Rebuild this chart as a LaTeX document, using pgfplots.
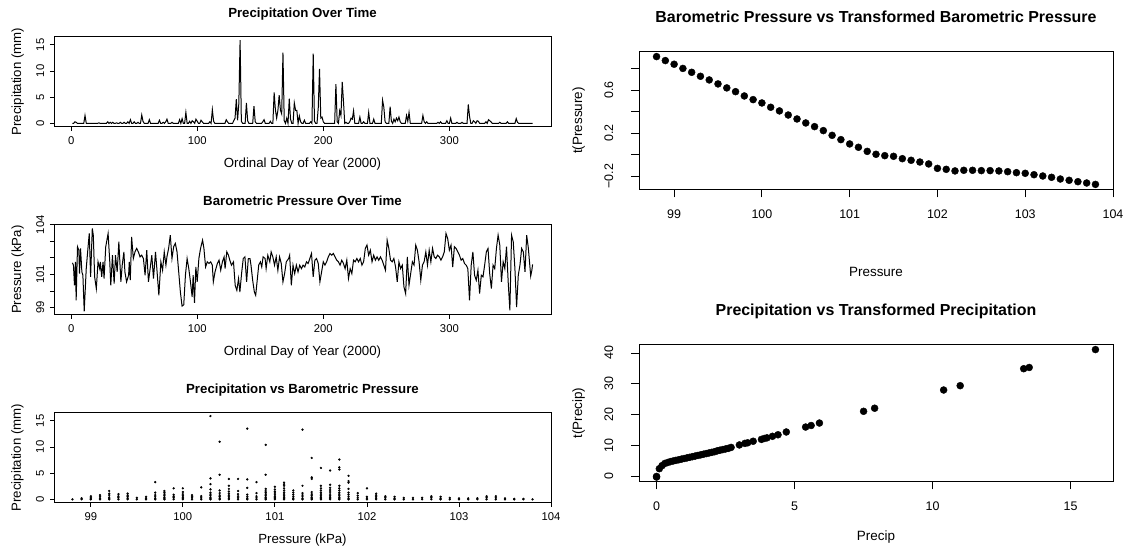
\documentclass[border=0pt]{standalone}
\usepackage{fontspec}
\setmainfont{Liberation Sans}
\usepackage{pgfplots}
\pgfplotsset{compat=1.18}
\pgfplotsset{
  Rbase/.style={scale only axis, axis line style={line width=0.8bp},
    every tick/.style={black, line width=0.8bp}, tick align=outside,
    xtick pos=bottom, ytick pos=left, minor tick num=0, scaled ticks=false,
    /pgf/number format/assume math mode=true,
    /pgf/number format/1000 sep={}},
  Rleft/.style={Rbase, width=497bp, height=90bp, major tick length=4bp,
    xticklabel style={anchor=base, yshift=-14bp, font=\fontsize{11.3}{11.3}\selectfont},
    yticklabel style={xshift=-6bp, rotate=90, anchor=base, font=\fontsize{11.3}{11.3}\selectfont},
    every axis x label/.style={at={(axis description cs:0.5,0)}, yshift=-41bp, anchor=base, font=\fontsize{13.3}{13.3}\selectfont},
    every axis y label/.style={at={(axis description cs:0,0.5)}, xshift=-33bp, rotate=90, anchor=base, font=\fontsize{13.3}{13.3}\selectfont},
    title style={at={(axis description cs:0.5,1)}, anchor=base, yshift=13bp, font=\bfseries\fontsize{13.3}{13.3}\selectfont}},
  Rright/.style={Rbase, width=474bp, major tick length=8bp,
    xticklabel style={anchor=base, yshift=-21bp, font=\fontsize{12.5}{12.5}\selectfont},
    yticklabel style={xshift=-18bp, rotate=90, anchor=base, font=\fontsize{12.5}{12.5}\selectfont},
    every axis y label/.style={at={(axis description cs:0,0.5)}, xshift=-57bp, rotate=90, anchor=base, font=\fontsize{13.5}{13.5}\selectfont},
    title style={at={(axis description cs:0.5,1)}, anchor=base, yshift=23bp, font=\bfseries\fontsize{16}{16}\selectfont}},
}
\begin{document}
\begin{tikzpicture}
\useasboundingbox (0bp,0bp) rectangle (1123bp,546bp);
% ---------- Panel 1 ----------
\begin{axis}[Rleft, at={(54bp,419.3bp)}, anchor=south west,
  xmin=-13.6, xmax=380.6, ymin=-0.636, ymax=16.536,
  xtick={0,100,200,300}, ytick={0,5,10,15},
  title={Precipitation Over Time}, xlabel={Ordinal Day of Year (2000)}, ylabel={Precipitation (mm)}]
\addplot[black, line width=1bp] table[row sep=\\]{
x y\\ 1 0\\ 2 0\\ 3 0.3\\ 4 0.2\\ 5 0\\ 10 0\\ 11 1.5\\ 12 0\\ 21 0\\ 22 0.1\\ 23 0\\ 28 0\\ 29 0.3\\ 30 0\\ 31 0.2\\ 32 0\\ 33 0.2\\ 34 0\\ 35 0\\ 36 0.1\\ 37 0\\ 38 0\\ 39 0.2\\ 40 0\\ 41 0\\ 42 0.2\\ 43 0\\ 44 0\\ 45 0.3\\ 46 0\\ 47 0.7\\ 48 0\\ 49 0\\ 50 0.3\\ 51 0\\ 52 0\\ 53 0.2\\ 54 0\\ 55 0\\ 56 1.6\\ 57 0.4\\ 58 0\\ 61 0\\ 62 0.7\\ 63 0\\ 69 0\\ 70 0.6\\ 71 0\\ 72 0\\ 73 0.2\\ 74 0\\ 75 0.3\\ 76 0.8\\ 77 0\\ 79 0\\ 80 0.2\\ 81 0\\ 85 0\\ 86 0.7\\ 87 0\\ 88 0.9\\ 89 0\\ 90 0\\ 91 2.1\\ 92 0\\ 93 0\\ 94 0.4\\ 95 0\\ 96 0.5\\ 97 0.3\\ 98 0\\ 99 0.8\\ 100 0.4\\ 101 0\\ 102 0\\ 103 0.6\\ 104 0.3\\ 105 0\\ 109 0\\ 110 0.3\\ 111 0\\ 112 2.6\\ 113 0.4\\ 114 0\\ 122 0\\ 123 0.7\\ 124 0.3\\ 125 0\\ 128 0\\ 129 0.5\\ 130 1.0\\ 131 4.6\\ 132 0.6\\ 133 3.8\\ 134 15.9\\ 135 0.4\\ 136 0\\ 138 0\\ 139 3.9\\ 140 0.5\\ 141 0\\ 144 0\\ 145 3.3\\ 146 0.3\\ 147 0\\ 151 0\\ 152 0.3\\ 153 0.7\\ 154 0\\ 157 0\\ 158 0.4\\ 159 0\\ 160 0\\ 161 5.9\\ 162 2.6\\ 163 1.0\\ 164 2.5\\ 165 5.4\\ 166 2.5\\ 167 1.8\\ 168 13.5\\ 169 0.5\\ 170 0\\ 171 1.0\\ 172 0\\ 173 4.7\\ 174 0.8\\ 175 0\\ 176 0\\ 177 3.9\\ 178 2.5\\ 179 2.5\\ 180 0\\ 181 1.4\\ 182 0.3\\ 183 0\\ 184 0\\ 185 0.6\\ 186 0\\ 189 0\\ 190 0.3\\ 191 0\\ 192 13.3\\ 193 0.4\\ 194 0\\ 195 0\\ 196 3.0\\ 197 10.4\\ 198 1.0\\ 199 1.2\\ 200 0.3\\ 201 0\\ 209 0\\ 210 7.5\\ 211 0.3\\ 212 0\\ 213 2.4\\ 214 1.5\\ 215 7.9\\ 216 4.2\\ 217 0\\ 218 0.2\\ 219 0\\ 220 0\\ 221 0.3\\ 222 1.0\\ 223 0.8\\ 224 2.4\\ 225 0\\ 228 0\\ 229 1.2\\ 230 0\\ 231 0\\ 232 0.3\\ 233 0\\ 235 0\\ 236 2.1\\ 237 0\\ 239 0\\ 240 0.8\\ 241 0\\ 246 0\\ 247 4.4\\ 248 3.1\\ 249 0.3\\ 250 0\\ 252 0\\ 253 3.2\\ 254 0.4\\ 255 0\\ 256 0.8\\ 257 0.3\\ 258 1.0\\ 259 0.5\\ 260 1.2\\ 261 0.3\\ 262 0\\ 265 0\\ 266 1.5\\ 267 0.4\\ 268 2.1\\ 269 0\\ 278 0\\ 279 1.5\\ 280 0.3\\ 281 0\\ 282 0.3\\ 283 0\\ 290 0\\ 291 0.2\\ 292 0\\ 293 0.3\\ 294 0\\ 297 0\\ 298 0.5\\ 299 0\\ 300 0\\ 301 1.0\\ 302 0\\ 305 0\\ 306 0.2\\ 307 0\\ 309 0\\ 310 0.2\\ 311 0\\ 314 0\\ 315 3.6\\ 316 1.3\\ 317 0\\ 318 0\\ 319 0.5\\ 320 0.3\\ 321 0\\ 322 0.5\\ 323 0.4\\ 324 0\\ 328 0\\ 329 0.3\\ 330 0\\ 331 0.7\\ 332 0.5\\ 333 0.3\\ 334 0\\ 339 0\\ 340 0.2\\ 341 0\\ 345 0\\ 346 0.3\\ 347 0\\ 352 0\\ 353 0.9\\ 354 0.2\\ 355 0\\ 366 0\\
};
\end{axis}
% ---------- Panel 2 ----------
\begin{axis}[Rleft, at={(54bp,231.3bp)}, anchor=south west,
  xmin=-13.6, xmax=380.6, ymin=98.57, ymax=104.0,
  xtick={0,100,200,300}, ytick={99,100,101,102,103,104}, yticklabels={99,,101,,,104},
  title={Barometric Pressure Over Time}, xlabel={Ordinal Day of Year (2000)}, ylabel={Pressure (kPa)}]
\addplot[black, line width=1bp] coordinates {
(1.0,101.70)(1.84,101.56)(2.64,100.34)(3.44,101.76)(3.97,99.43)(5.04,102.67)(6.11,102.46)(6.64,101.05)(7.44,102.57)(8.51,101.15)(9.31,100.95)(10.37,98.77)(11.97,101.35)(13.31,102.57)(14.37,103.47)(15.44,100.85)(16.77,103.78)(17.57,103.37)(18.64,100.85)(19.97,100.14)(21.31,101.76)(22.64,101.35)(23.17,101.76)(24.24,100.85)(25.31,101.76)(26.11,100.75)(27.44,102.67)(29.31,103.47)(30.64,101.76)(31.44,100.34)(32.77,102.16)(34.11,100.44)(35.17,102.16)(36.51,101.15)(37.84,102.97)(39.44,100.55)(40.51,101.56)(41.84,102.36)(42.64,101.15)(43.97,100.55)(45.57,100.95)(46.11,101.76)(46.91,100.65)(47.97,103.27)(49.31,101.96)(50.64,102.36)(51.97,102.57)(53.31,102.36)(54.64,102.06)(55.97,102.16)(57.31,101.96)(58.64,100.95)(59.97,102.46)(61.31,100.55)(62.64,101.35)(63.97,102.16)(65.31,100.75)(66.91,102.36)(67.97,101.35)(69.57,99.74)(71.17,101.76)(72.51,101.25)(73.84,102.36)(75.17,101.56)(75.97,102.06)(77.31,102.57)(78.64,103.37)(79.97,101.96)(81.31,102.67)(82.64,102.87)(83.97,102.36)(85.31,101.15)(86.64,99.94)(87.97,99.09)(89.31,99.17)(90.64,100.95)(91.97,101.96)(93.31,101.35)(94.64,100.55)(95.97,99.64)(96.77,100.95)(97.84,99.29)(98.91,101.45)(99.97,100.55)(101.31,101.96)(102.64,102.57)(104.24,103.07)(105.31,102.57)(106.64,101.45)(107.97,101.76)(109.31,101.66)(110.64,101.76)(111.97,101.56)(112.77,100.55)(114.11,101.15)(115.97,101.66)(117.31,101.86)(118.64,101.25)(119.97,101.76)(121.31,102.06)(122.11,101.35)(123.44,102.36)(124.77,102.16)(125.84,101.86)(127.17,101.56)(128.77,101.76)(130.11,100.34)(131.44,100.04)(132.77,100.75)(133.84,99.94)(135.17,101.05)(136.51,101.96)(137.84,102.06)(139.17,100.55)(140.51,101.96)(141.84,101.96)(142.64,101.56)(143.97,100.65)(145.31,99.94)(146.37,99.74)(147.44,100.55)(148.77,101.56)(150.11,101.76)(151.17,101.45)(152.24,102.06)(153.84,101.96)(154.64,101.35)(155.97,102.16)(157.57,101.76)(158.64,102.36)(159.97,102.06)(161.31,101.56)(162.64,102.06)(163.97,101.25)(165.31,102.06)(166.64,101.66)(167.97,100.55)(169.31,101.05)(170.64,101.76)(172.51,101.96)(173.3,102.16)(174.64,100.34)(175.97,101.56)(177.31,101.05)(178.64,101.56)(179.97,101.15)(181.31,101.56)(182.64,101.35)(183.97,101.56)(185.31,101.45)(186.64,101.76)(187.97,101.66)(189.31,101.96)(190.64,102.26)(191.97,100.85)(193.31,101.86)(194.64,101.96)(195.97,101.66)(197.31,100.55)(198.64,101.15)(199.97,101.76)(201.31,101.56)(202.64,101.76)(203.97,102.06)(205.31,102.26)(206.64,102.16)(207.97,102.26)(209.31,102.06)(210.64,101.86)(211.97,101.76)(213.31,101.56)(214.64,101.86)(215.97,101.66)(217.31,101.35)(218.64,101.86)(219.97,100.75)(221.31,101.35)(222.64,101.05)(223.97,101.86)(225.31,101.76)(226.64,101.96)(227.97,101.76)(229.31,101.96)(230.64,101.56)(231.97,101.76)(233.31,102.57)(234.64,102.77)(235.97,102.16)(237.31,102.46)(238.64,101.76)(239.97,102.16)(241.31,101.86)(242.64,102.06)(243.97,101.86)(245.31,102.06)(246.64,101.86)(247.97,101.56)(249.31,101.25)(250.64,103.07)(251.97,102.57)(253.31,101.86)(254.64,101.76)(255.97,101.96)(257.31,101.45)(258.64,100.55)(259.97,101.76)(261.31,101.35)(262.64,101.56)(263.97,100.24)(265.31,99.84)(266.64,102.06)(267.97,100.34)(269.31,101.05)(270.64,101.76)(271.97,101.56)(273.31,102.77)(274.64,102.46)(275.97,101.76)(277.31,100.65)(278.64,101.56)(279.97,101.76)(281.31,102.36)(282.64,101.56)(283.97,102.46)(285.31,101.76)(286.64,102.57)(287.97,102.06)(289.31,101.96)(290.64,102.16)(291.97,102.06)(293.31,101.86)(294.64,102.06)(295.97,102.36)(297.31,103.47)(298.64,103.17)(299.97,102.46)(301.31,102.77)(302.64,101.45)(303.97,102.67)(305.31,102.57)(306.64,102.36)(307.97,102.16)(309.31,101.86)(310.64,101.96)(311.97,101.66)(313.31,101.56)(314.64,101.35)(315.97,99.43)(317.31,101.56)(318.64,102.36)(319.97,100.95)(321.31,100.65)(322.64,101.25)(323.97,99.84)(325.31,100.95)(326.64,100.85)(327.97,101.56)(329.31,102.36)(330.64,102.57)(331.97,101.05)(333.31,100.14)(334.64,101.56)(335.97,101.35)(337.31,102.57)(338.64,103.37)(339.97,102.77)(341.31,100.55)(342.64,101.76)(343.97,101.35)(345.31,102.67)(346.64,100.55)(347.97,98.83)(349.31,103.37)(350.64,102.97)(351.97,101.35)(353.31,99.03)(354.64,100.95)(355.97,101.56)(357.31,102.57)(358.64,102.36)(359.97,101.15)(361.31,103.37)(362.6,102.6)(363.5,101.8)(364.5,100.9)(365.3,101.2)(366,101.6)
};
\end{axis}
% ---------- Panel 3 ----------
\begin{axis}[Rleft, at={(54bp,43.3bp)}, anchor=south west,
  xmin=98.6, xmax=104.0, ymin=-0.636, ymax=16.536,
  xtick={99,100,101,102,103,104}, ytick={0,5,10,15},
  title={Precipitation vs Barometric Pressure}, xlabel={Pressure (kPa)}, ylabel={Precipitation (mm)}]
\addplot[only marks, mark=*, mark size=0.95bp, black] coordinates {
(98.8,0)(98.9,0)(98.9,0.2)(99.0,0)(99.0,0.1)(99.0,0.3)(99.0,0.6)(99.1,0)(99.1,0.2)(99.1,0.5)(99.1,0.8)
(99.2,0)(99.2,0.2)(99.2,0.4)(99.2,0.8)(99.2,1.1)(99.2,1.6)(99.3,0)(99.3,0.3)(99.3,0.6)(99.3,1.0)
(99.4,0)(99.4,0.2)(99.4,0.5)(99.4,0.8)(99.4,1.1)(99.5,0)(99.5,0.3)(99.6,0)(99.6,0.2)(99.6,0.5)
(99.7,0)(99.7,0.2)(99.7,0.5)(99.7,0.8)(99.7,1.3)(99.7,3.3)(99.8,0)(99.8,0.2)(99.8,0.4)(99.8,0.7)(99.8,1.0)(99.8,1.3)(99.8,1.6)
(99.9,0)(99.9,0.3)(99.9,0.6)(99.9,0.9)(99.9,2.1)(100.0,0)(100.0,0.2)(100.0,0.4)(100.0,0.7)(100.0,1.0)(100.0,1.4)(100.0,2.1)
(100.1,0)(100.1,0.3)(100.1,0.5)(100.1,0.8)(100.2,0)(100.2,0.3)(100.2,0.6)(100.2,2.3)
(100.3,0)(100.3,0.2)(100.3,0.4)(100.3,0.7)(100.3,1.0)(100.3,1.3)(100.3,1.9)(100.3,2.9)(100.3,4.0)(100.3,15.9)
(100.4,0)(100.4,0.2)(100.4,0.5)(100.4,0.8)(100.4,1.2)(100.4,1.7)(100.4,4.7)(100.4,11.0)
(100.5,0)(100.5,0.2)(100.5,0.5)(100.5,0.8)(100.5,1.1)(100.5,1.5)(100.5,2.0)(100.5,2.6)(100.5,3.9)
(100.6,0)(100.6,0.3)(100.6,0.6)(100.6,1.0)(100.6,1.6)(100.6,3.9)
(100.7,0)(100.7,0.2)(100.7,0.5)(100.7,0.9)(100.7,2.2)(100.7,3.8)(100.7,13.5)
(100.8,0)(100.8,0.3)(100.8,0.6)(100.8,1.2)(100.8,3.3)
(100.9,0)(100.9,0.2)(100.9,0.4)(100.9,0.7)(100.9,1.0)(100.9,1.3)(100.9,1.6)(100.9,2.0)(100.9,4.7)(100.9,10.4)
(101.0,0)(101.0,0.2)(101.0,0.4)(101.0,0.6)(101.0,0.9)(101.0,1.2)(101.0,1.5)(101.0,1.9)(101.0,2.4)
(101.1,0)(101.1,0.2)(101.1,0.4)(101.1,0.7)(101.1,1.0)(101.1,1.3)(101.1,1.7)(101.1,2.1)(101.1,2.6)(101.1,2.9)(101.1,3.2)
(101.2,0)(101.2,0.2)(101.2,0.5)(101.2,0.9)(101.2,1.3)(101.2,1.7)
(101.3,0)(101.3,0.2)(101.3,0.5)(101.3,0.8)(101.3,1.2)(101.3,2.6)(101.3,13.3)
(101.4,0)(101.4,0.2)(101.4,0.4)(101.4,0.7)(101.4,1.0)(101.4,1.4)(101.4,3.9)(101.4,4.2)(101.4,7.9)
(101.5,0)(101.5,0.2)(101.5,0.4)(101.5,0.7)(101.5,1.0)(101.5,1.3)(101.5,1.7)(101.5,2.1)(101.5,2.6)(101.5,6.0)
(101.6,0)(101.6,0.2)(101.6,0.4)(101.6,0.7)(101.6,1.0)(101.6,1.4)(101.6,1.8)(101.6,2.2)(101.6,2.8)(101.6,5.5)
(101.7,0)(101.7,0.2)(101.7,0.4)(101.7,0.7)(101.7,1.0)(101.7,1.3)(101.7,1.7)(101.7,2.1)(101.7,2.6)(101.7,5.7)(101.7,6.1)(101.7,7.6)
(101.8,0)(101.8,0.2)(101.8,0.5)(101.8,0.9)(101.8,1.3)(101.8,2.0)(101.8,3.2)(101.8,3.5)(101.8,4.5)
(101.9,0)(101.9,0.3)(101.9,0.7)(101.9,1.2)(102.0,0)(102.0,0.2)(102.0,0.5)(102.0,2.1)
(102.1,0)(102.1,0.2)(102.1,0.5)(102.1,0.8)(102.1,1.1)(102.2,0)(102.2,0.3)(102.2,0.6)(102.3,0)(102.3,0.2)(102.3,0.5)
(102.4,0)(102.4,0.3)(102.5,0)(102.5,0.3)(102.6,0)(102.6,0.3)(102.7,0)(102.7,0.3)(102.7,0.6)(102.8,0)(102.8,0.2)(102.8,0.5)
(102.9,0)(102.9,0.3)(103.0,0)(103.0,0.2)(103.1,0)(103.1,0.2)(103.2,0)(103.2,0.2)(103.3,0)(103.3,0.3)(103.3,0.6)
(103.4,0)(103.4,0.3)(103.4,0.6)(103.5,0)(103.5,0.2)(103.6,0)(103.6,0.1)(103.7,0)(103.7,0.1)(103.8,0)
};
\end{axis}
% ---------- Panel 4 ----------
\begin{axis}[Rright, at={(639bp,356.5bp)}, anchor=south west, height=138bp,
  xmin=98.6, xmax=104.0, ymin=-0.3255, ymax=0.9575,
  xtick={99,100,101,102,103,104}, ytick={-0.2,0,0.2,0.4,0.6,0.8}, yticklabels={−0.2,,0.2,,0.6,},
  title={Barometric Pressure vs Transformed Barometric Pressure},
  every axis x label/.style={at={(axis description cs:0.5,0)}, yshift=-87bp, anchor=base, font=\fontsize{13.5}{13.5}\selectfont},
  xlabel={Pressure}, ylabel={t(Pressure)}]
\addplot[only marks, mark=*, mark size=3.5bp, black] coordinates {
(98.8,0.910)(98.9,0.873)(99.0,0.839)(99.1,0.800)(99.2,0.764)(99.3,0.727)(99.4,0.693)(99.5,0.656)(99.6,0.619)(99.7,0.584)
(99.8,0.544)(99.9,0.510)(100.0,0.479)(100.1,0.439)(100.2,0.405)(100.3,0.367)(100.4,0.330)(100.5,0.293)(100.6,0.259)(100.7,0.222)
(100.8,0.178)(100.9,0.138)(101.0,0.098)(101.1,0.067)(101.2,0.029)(101.3,0.002)(101.4,-0.011)(101.5,-0.017)(101.6,-0.039)(101.7,-0.054)
(101.8,-0.070)(101.9,-0.088)(102.0,-0.129)(102.1,-0.138)(102.2,-0.153)(102.3,-0.147)(102.4,-0.147)(102.5,-0.150)(102.6,-0.150)(102.7,-0.153)
(102.8,-0.160)(102.9,-0.169)(103.0,-0.175)(103.1,-0.188)(103.2,-0.200)(103.3,-0.212)(103.4,-0.228)(103.5,-0.240)(103.6,-0.253)(103.7,-0.265)(103.8,-0.278)
};
\end{axis}
% ---------- Panel 5 ----------
\begin{axis}[Rright, at={(639bp,64.5bp)}, anchor=south west, height=137bp,
  xmin=-0.636, xmax=16.536, ymin=-1.644, ymax=42.744,
  xtick={0,5,10,15}, ytick={0,10,20,30,40},
  title={Precipitation vs Transformed Precipitation},
  every axis x label/.style={at={(axis description cs:0.5,0)}, yshift=-59bp, anchor=base, font=\fontsize{13.5}{13.5}\selectfont},
  xlabel={Precip}, ylabel={t(Precip)}]
\addplot[only marks, mark=*, mark size=3.5bp, black] coordinates {
(0,-0.2)(0,0)(0.1,2.5)(0.2,3.5)(0.3,4.2)(0.4,4.5)(0.5,4.8)(0.6,5.0)(0.7,5.2)(0.8,5.4)(0.9,5.6)(1.0,5.8)
(1.1,6.0)(1.2,6.2)(1.3,6.4)(1.4,6.6)(1.5,6.8)(1.6,7.0)(1.7,7.2)(1.8,7.4)(1.9,7.6)(2.0,7.8)
(2.1,8.0)(2.2,8.3)(2.3,8.5)(2.4,8.7)(2.5,8.9)(2.6,9.1)(2.7,9.4)(3.0,10.2)(3.2,10.7)(3.3,10.9)
(3.5,11.4)(3.8,12.0)(3.9,12.3)(4.0,12.5)(4.2,13.0)(4.4,13.5)(4.7,14.4)(5.4,16.0)(5.6,16.5)(5.9,17.3)
(7.5,21.1)(7.9,22.1)(10.4,28.0)(11.0,29.4)(13.3,34.9)(13.5,35.3)(15.9,41.1)
};
\end{axis}
\end{tikzpicture}
\end{document}
